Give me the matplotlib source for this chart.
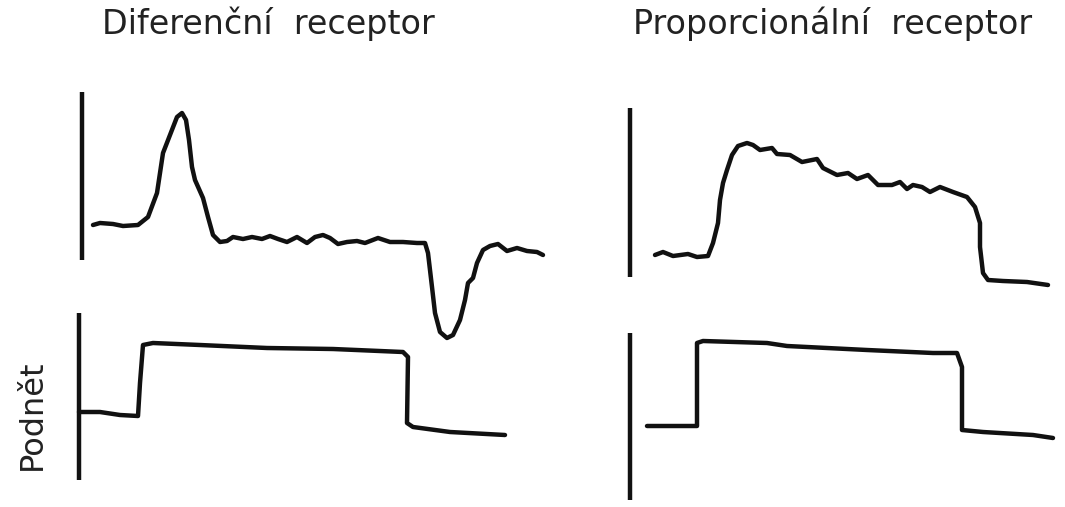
import matplotlib
matplotlib.use("Agg")
import matplotlib.pyplot as plt

plt.rcParams['font.family'] = ['DejaVu Sans']

# traced curves (horizontal position, vertical position in picture units)
# diferencni receptor - odpoved
dif_resp_x = [93, 100, 113, 123, 138, 148, 157, 163, 170, 177, 182, 186, 189, 192, 195,
              203, 208, 213, 220, 227, 233, 243, 252, 262, 270, 278, 287, 297, 307, 315,
              323, 330, 338, 347, 357, 365, 378, 390, 403, 417, 425, 428, 432, 435, 440,
              447, 453, 460, 465, 468, 473, 477, 483, 490, 498, 507, 517, 527, 537, 543]
dif_resp_y = [225, 223, 224, 226, 225, 217, 193, 153, 135, 117, 113, 120, 140, 167, 180,
              198, 217, 235, 242, 241, 237, 239, 237, 239, 236, 239, 242, 237, 243, 237,
              235, 238, 244, 242, 241, 243, 238, 242, 242, 243, 243, 253, 287, 313, 332,
              338, 335, 320, 300, 283, 278, 263, 250, 246, 244, 251, 248, 251, 252, 255]

# proporcionalni receptor - odpoved
prop_resp_x = [655, 663, 673, 688, 697, 708, 713, 718, 720, 723, 727, 732, 738, 747, 753,
               760, 772, 777, 790, 802, 817, 823, 837, 848, 857, 868, 878, 892, 900, 907,
               913, 922, 930, 940, 953, 967, 975, 980, 980, 983, 988, 1003, 1027, 1048]
prop_resp_y = [255, 252, 256, 254, 257, 256, 243, 223, 200, 183, 170, 155, 146, 143, 145,
               150, 148, 154, 155, 162, 159, 168, 175, 173, 179, 175, 185, 185, 182, 189,
               185, 187, 192, 187, 192, 197, 207, 223, 247, 273, 280, 281, 282, 285]

# podnety
dif_stim_x = [79, 100, 120, 138, 140, 143, 153, 200, 267, 333, 403, 408, 407, 413, 450, 505]
dif_stim_y = [412, 412, 415, 416, 383, 345, 343, 345, 348, 349, 352, 357, 423, 427, 432, 435]

prop_stim_x = [647, 697, 697, 703, 767, 787, 867, 933, 957, 962, 962, 983, 1033, 1053]
prop_stim_y = [426, 426, 343, 341, 343, 346, 350, 353, 353, 367, 430, 432, 435, 438]

# svisle osy (x, horni, dolni)
bars_x = [82, 630, 79, 630]
bars_top = [92, 108, 313, 333]
bars_bottom = [260, 277, 480, 500]

titles = ["Diferenční  receptor", "Proporcionální  receptor"]
titles_x = [268, 833]
stim_label = "Podnět"

fig = plt.figure(figsize=(10.65, 5.07), dpi=100)
ax = fig.add_axes([0, 0, 1, 1])
ax.set_xlim(0, 1065)
ax.set_ylim(507, 0)
ax.axis('off')

lw = 3.2
for xs, ys in [(dif_resp_x, dif_resp_y), (prop_resp_x, prop_resp_y),
               (dif_stim_x, dif_stim_y), (prop_stim_x, prop_stim_y)]:
    ax.plot(xs, ys, color='#111111', lw=lw, solid_capstyle='round', solid_joinstyle='round')

ax.vlines(bars_x, bars_top, bars_bottom, color='#111111', lw=lw)

for t, x in zip(titles, titles_x):
    ax.text(x, 34, t, ha='center', va='baseline', fontsize=24, color='#222222')

ax.text(32, 415, stim_label, rotation=90, ha='center', va='center', fontsize=23, color='#222222')

fig.savefig('out.png', dpi=100)
